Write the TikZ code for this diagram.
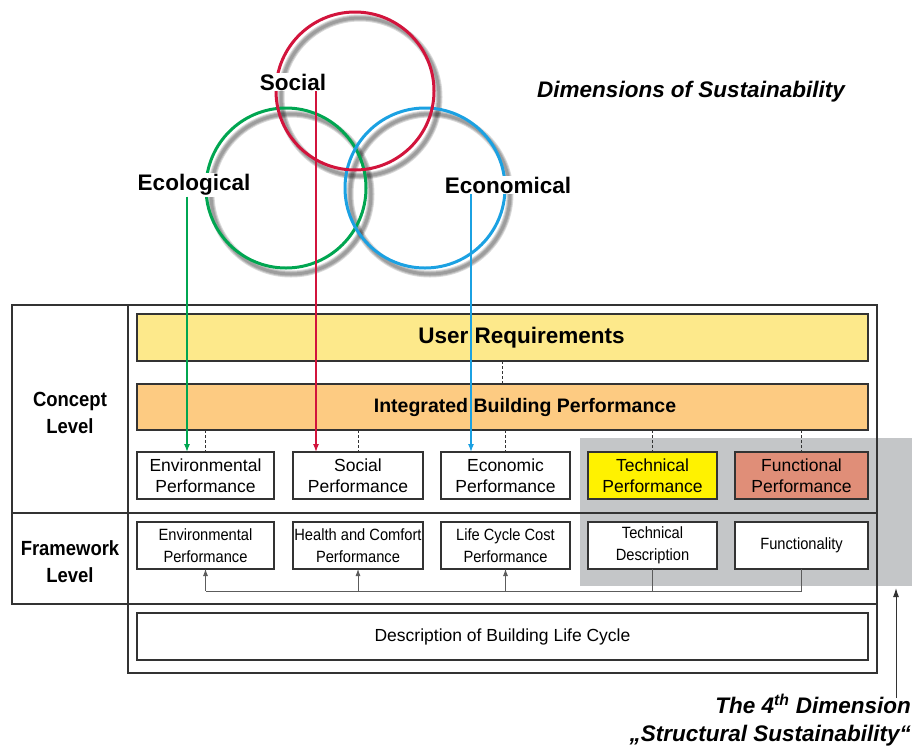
\documentclass[tikz,border=0pt]{standalone}
\usepackage{fontspec}
\setmainfont{Liberation Sans}
\newfontfamily\narrowfont[FakeStretch=0.9]{Liberation Sans}
\usepackage{tikz}
\usetikzlibrary{arrows.meta,positioning}
\definecolor{ecogreen}{RGB}{0,166,81}
\definecolor{socred}{RGB}{210,20,60}
\definecolor{econblue}{RGB}{27,161,226}
\definecolor{userreq}{RGB}{253,233,139}
\definecolor{intperf}{RGB}{253,203,130}
\definecolor{dimgray}{RGB}{196,198,200}
\definecolor{techyellow}{RGB}{255,242,0}
\definecolor{funcsalmon}{RGB}{224,142,120}
\definecolor{framegray}{RGB}{51,51,51}

\begin{document}
\begin{tikzpicture}[x=1pt,y=-1pt,
	frame/.style={draw=framegray,line width=1.1pt},
	box/.style={draw=framegray,line width=1.1pt,fill=white,inner sep=0pt,outer sep=0pt,
		minimum height=47,align=center,font=\fontsize{17.5}{21}\selectfont},
	fwbox/.style={box,font=\narrowfont\fontsize{16.3}{22}\selectfont},
	band/.style={box,minimum width=731},
	dimlabel/.style={fill=white,inner sep=1pt,font=\fontsize{22.5}{27}\selectfont\bfseries},
	levellabel/.style={align=center,font=\narrowfont\fontsize{20.5}{27}\selectfont\bfseries},
	dashlink/.style={draw=framegray,densely dashed,line width=0.5pt},
	busline/.style={draw=framegray!80,line width=0.8pt},
	ring/.style={line width=3pt},
	ringshadow/.style={draw=black,line width=#1,opacity=0.15}]
		\useasboundingbox (0,0) rectangle (912,745);

		% shadows of the three rings
		\foreach \cx/\cy/\r in {355/91/79,286/188/80,425/188/80}{
			\foreach \w in {7pt,5pt,3pt}
				\draw[ringshadow=\w] (\cx+5,\cy+6) circle (\r pt);
		}
		\draw[ring,ecogreen] (286,188) circle (80pt);
		\draw[ring,econblue] (425,188) circle (80pt);
		\draw[ring,socred] (355,91) circle (79pt);

		\node[dimlabel] (soc) at (293,82) {Social};
		\node[dimlabel] (eco) at (194,185) {Ecological};
		\node[dimlabel] (econ) at (508,185) {Economical};
		\node[font=\fontsize{22.5}{27}\selectfont\bfseries\itshape] (dims) at (691,92) {Dimensions of Sustainability};

		% the 4th dimension
		\fill[dimgray] (580,438) rectangle (912,586);

		\draw[frame] (12,305) rectangle (877,604);
		\draw[frame] (128,305) rectangle (877,673);
		\draw[frame] (12,513) -- (877,513);

		\node[levellabel] (cl) at (70,413) {Concept\\Level};
		\node[levellabel] (fl) at (70,562) {Framework\\Level};

		\node[band,fill=userreq,font=\fontsize{22.5}{27}\selectfont\bfseries] (ur) at (502.5,337.5) {\hspace*{38pt}User Requirements};
		\node[band,fill=intperf,minimum height=46,font=\fontsize{19.5}{24}\selectfont\bfseries] (ibp) at (502.5,407) {\hspace*{45pt}Integrated Building Performance};

		\node[box,minimum width=137] (c1) at (205.5,475.5) {Environmental\\Performance};
		\node[box,minimum width=130] (c2) at (358,475.5) {Social\\Performance};
		\node[box,minimum width=129] (c3) at (505.5,475.5) {Economic\\Performance};
		\node[box,minimum width=129,fill=techyellow] (c4) at (652.5,475.5) {Technical\\Performance};
		\node[box,minimum width=133,fill=funcsalmon] (c5) at (801.5,475.5) {Functional\\Performance};

		\node[fwbox,minimum width=137] (f1) at (205.5,545.5) {Environmental\\Performance};
		\node[fwbox,minimum width=130] (f2) at (358,545.5) {Health and Comfort\\Performance};
		\node[fwbox,minimum width=129] (f3) at (505.5,545.5) {Life Cycle Cost\\Performance};
		\node[fwbox,minimum width=129] (f4) at (652.5,545.5) {Technical\\Description};
		\node[fwbox,minimum width=133] (f5) at (801.5,545.5) {Functionality};

		\node[band] (dblc) at (502.5,636.5) {Description of Building Life Cycle};

		\draw[dashlink] (ur.south) -- (ibp.north);
		\foreach \b in {c1,c2,c3,c4,c5}
			\draw[dashlink] (ibp.south -| \b.north) -- (\b.north);

		\draw[ecogreen,line width=1.2pt,-{Latex[length=8pt,width=6pt]}] ([xshift=-7]eco.south) -- ([xshift=-7]eco.south |- c1.north);
		\draw[socred,line width=1.2pt,-{Latex[length=8pt,width=6pt]}] ([xshift=23]soc.south) -- ([xshift=23]soc.south |- c2.north);
		\draw[econblue,line width=1.2pt,-{Latex[length=8pt,width=6pt]}] ([xshift=-37]econ.south) -- ([xshift=-37]econ.south |- c3.north);

		\coordinate (bus) at (0,591);
		\draw[busline] (f5.south) -- (f5.south |- bus) -- (f1.south |- bus);
		\draw[busline] (f4.south) -- (f4.south |- bus);
		\foreach \b in {f1,f2,f3}
			\draw[busline,-{Latex[length=7pt,width=5pt]}] (\b.south |- bus) -- (\b.south);

		\node[anchor=north east,inner sep=0pt,align=right,font=\fontsize{22.5}{28}\selectfont\bfseries\itshape] (dim4) at (911,694)
			{The 4\textsuperscript{th} Dimension\\„Structural Sustainability“};
		\coordinate (dimtip) at (896,588);
		\draw[framegray,line width=1pt,-{Latex[length=9pt,width=6pt]}] ([yshift=-4]dim4.north -| dimtip) -- (dimtip);
\end{tikzpicture}
\end{document}
